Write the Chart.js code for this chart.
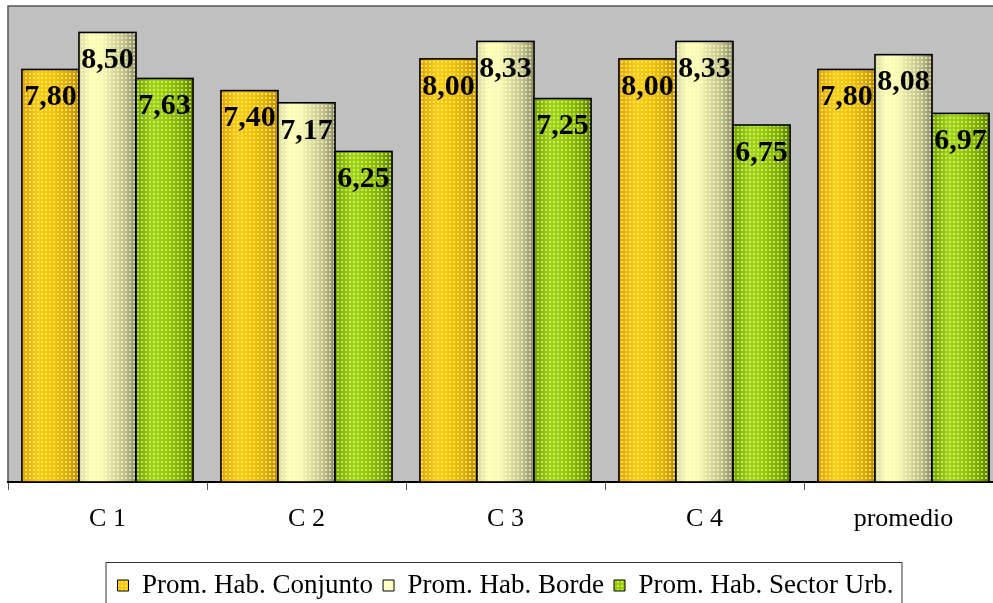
<!DOCTYPE html>
<html><head><meta charset="utf-8">
<script src="https://cdn.jsdelivr.net/npm/chart.js@4"></script>
<style>
html,body{margin:0;padding:0;background:#fff;overflow:hidden;width:993px;height:603px}
#wrap{position:relative;width:1005px;height:615px}
</style></head><body><div id="wrap"><canvas id="c"></canvas></div>
<script>
const categories = ['C 1', 'C 2', 'C 3', 'C 4', 'promedio'];
const conjunto = [7.80, 7.40, 8.00, 8.00, 7.80];
const borde = [8.50, 7.17, 8.33, 8.33, 8.08];
const sector = [7.63, 6.25, 7.25, 6.75, 6.97];
const seriesNames = ['Prom. Hab. Conjunto', 'Prom. Hab. Borde', 'Prom. Hab. Sector Urb.'];

const baseColors = ['#FFC800', '#FFFFC0', '#99CC00'];
const gradStops = [
  [[0,'#E0A400'],[0.3,'#FFCC10'],[0.55,'#F8C400'],[0.8,'#E0AC00'],[1,'#B88C00']],
  [[0,'#D8D8A0'],[0.2,'#FFFFB4'],[0.4,'#FAFAB0'],[0.6,'#DCDC9C'],[0.8,'#C0C088'],[1,'#8C8C64']],
  [[0,'#74A000'],[0.3,'#A4D418'],[0.55,'#98C808'],[0.8,'#80AC00'],[1,'#5C7C00']]
];
const dotColors = ['rgba(255,236,140,0.8)','rgba(255,255,230,0.6)','rgba(210,245,130,0.75)'];

function makeDots(col, bg){
  const c = document.createElement('canvas'); c.width = 4; c.height = 4;
  const g = c.getContext('2d');
  if (bg) { g.fillStyle = bg; g.fillRect(0,0,4,4); }
  g.fillStyle = col; g.fillRect(1,1,2,2);
  return c;
}
const tmpCtx = document.createElement('canvas').getContext('2d');
const legendFills = baseColors.map((b, i) => tmpCtx.createPattern(makeDots(dotColors[i], b), 'repeat'));

const plotBg = {
  id: 'plotBg',
  beforeDraw(chart){
    const {ctx, chartArea: a} = chart;
    ctx.save();
    ctx.fillStyle = '#C0C0C0';
    ctx.fillRect(a.left, a.top, a.right - a.left, a.bottom - a.top);
    ctx.strokeStyle = '#555'; ctx.lineWidth = 1.5;
    ctx.strokeRect(a.left, a.top, a.right - a.left, a.bottom - a.top);
    ctx.restore();
  }
};

const barDecor = {
  id: 'barDecor',
  afterDatasetsDraw(chart){
    const ctx = chart.ctx;
    chart.data.datasets.forEach((ds, di) => {
      const meta = chart.getDatasetMeta(di);
      const pat = ctx.createPattern(makeDots(dotColors[di]), 'repeat');
      meta.data.forEach((el, i) => {
        const l = el.x - el.width/2, r = el.x + el.width/2, t = el.y, b = el.base;
        const g = ctx.createLinearGradient(l, 0, r, 0);
        gradStops[di].forEach(s => g.addColorStop(s[0], s[1]));
        ctx.save();
        ctx.fillStyle = g; ctx.fillRect(l, t, r - l, b - t);
        ctx.fillStyle = pat; ctx.fillRect(l, t, r - l, b - t);
        ctx.strokeStyle = '#000'; ctx.lineWidth = 1.6;
        ctx.strokeRect(l, t, r - l, b - t);
        ctx.fillStyle = '#000';
        ctx.font = 'bold 30px "Liberation Serif"';
        ctx.textAlign = 'center'; ctx.textBaseline = 'middle';
        ctx.fillText(ds.data[i].toFixed(2).replace('.', ','), el.x, t + 28);
        ctx.restore();
      });
    });
  }
};

const legendBox = {
  id: 'legendBox',
  afterDraw(chart){
    const lg = chart.legend; if (!lg || !lg.legendHitBoxes) return;
    const hb = lg.legendHitBoxes;
    const left = Math.min(...hb.map(h => h.left)) - 12;
    const right = Math.max(...hb.map(h => h.left + h.width)) + 8;
    const ctx = chart.ctx;
    ctx.save(); ctx.strokeStyle = '#333'; ctx.lineWidth = 1;
    ctx.strokeRect(left + 0.5, lg.top + 0.5, right - left, chart.height);
    ctx.restore();
  }
};

new Chart(document.getElementById('c'), {
  type: 'bar',
  data: {
    labels: categories,
    datasets: [
      {label: seriesNames[0], data: conjunto, backgroundColor: legendFills[0], borderColor: '#000', borderWidth: 1},
      {label: seriesNames[1], data: borde, backgroundColor: legendFills[1], borderColor: '#000', borderWidth: 1},
      {label: seriesNames[2], data: sector, backgroundColor: legendFills[2], borderColor: '#000', borderWidth: 1}
    ]
  },
  options: {
    responsive: true, maintainAspectRatio: false, animation: false, devicePixelRatio: 1,
    layout: {padding: {top: 6, left: 8, right: 2, bottom: 6}},
    datasets: {bar: {categoryPercentage: 0.86, barPercentage: 1.0}},
    plugins: {
      legend: {
        position: 'bottom',
        labels: {color: '#000', font: {family: 'Liberation Serif', size: 27}, boxWidth: 11, boxHeight: 11, padding: 10}
      },
      tooltip: {enabled: false}
    },
    scales: {
      x: {
        grid: {display: true, drawOnChartArea: false, drawTicks: true, tickLength: 8, color: '#555', offset: true},
        border: {display: true, color: '#000', width: 2},
        ticks: {color: '#000', font: {family: 'Liberation Serif', size: 26}, padding: 14},
        afterFit(scale){ scale.height = 80; }
      },
      y: {display: false, min: 0, max: 9}
    }
  },
  plugins: [plotBg, barDecor, legendBox]
});
</script></body></html>
